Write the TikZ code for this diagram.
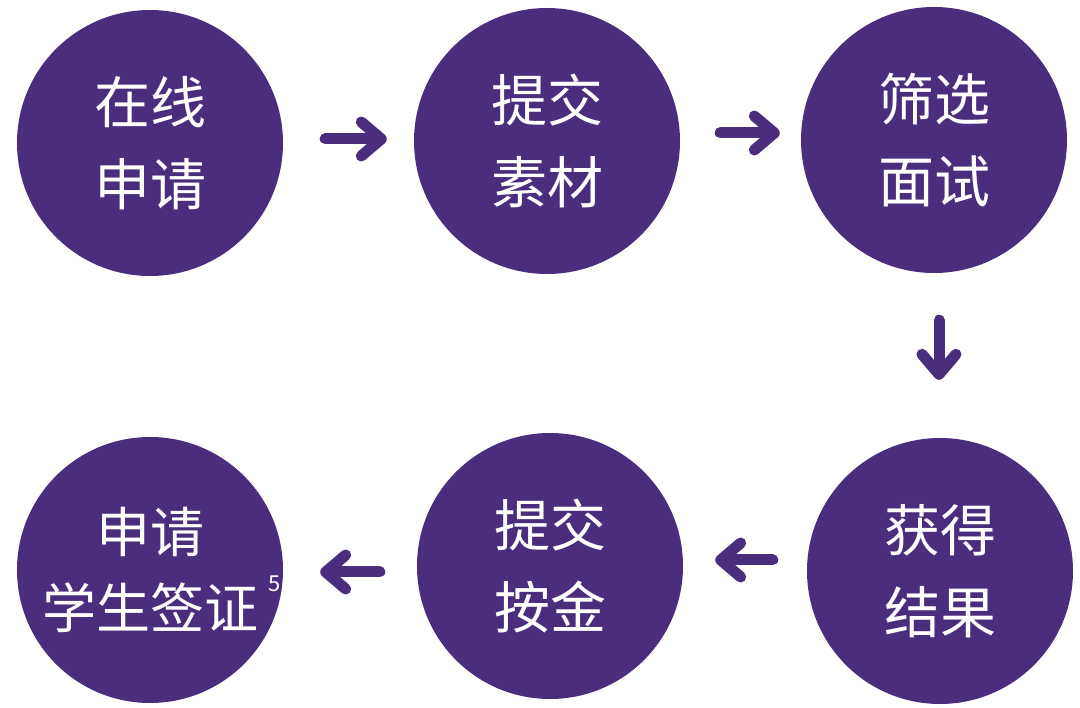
\documentclass[tikz,border=0pt]{standalone}
\usepackage{fontspec}
\newfontfamily\cjk{Noto Sans CJK SC}
\usetikzlibrary{arrows.meta}
\definecolor{uvpurple}{HTML}{4B2D7E}
\tikzset{
  stepcirc/.style={circle, fill=uvpurple, minimum size=266pt, inner sep=0pt,
    text=white, align=center, font=\cjk\fontsize{56}{82}\selectfont},
  flowarrow/.style={draw=uvpurple, line width=11pt, line cap=round,
    -{Straight Barb[length=20pt, width=34pt, round]}}
}
\begin{document}
\begin{tikzpicture}[x=1pt, y=-1pt]
\useasboundingbox (0,0) rectangle (1080,708);
\node[stepcirc] (c1) at (150,143) {在线\\申请};
\node[stepcirc] (c2) at (547,141) {提交\\素材};
\node[stepcirc] (c3) at (934,140) {筛选\\面试};
\node[stepcirc] (c6) at (940,571) {获得\\结果};
\node[stepcirc] (c5) at (550,566) {提交\\按金};
\node[stepcirc, font=\cjk\fontsize{54}{76}\selectfont] (c4) at (150,570) {申请\\学生签证};
\node[text=white, font=\cjk\fontsize{22}{26}\selectfont, inner sep=0pt] (sup) at (275,584) {5};
\draw[flowarrow, shorten <=42pt, shorten >=27pt] ([yshift=4pt]c1.east) -- ([yshift=2pt]c2.west);
\draw[flowarrow, shorten <=40pt, shorten >=21pt] ([yshift=8pt]c2.east) -- ([yshift=7pt]c3.west);
\draw[flowarrow, shorten <=47pt, shorten >=58pt] ([xshift=5pt]c3.south) -- ([xshift=-1pt]c6.north);
\draw[flowarrow, shorten <=34pt, shorten >=32pt] ([yshift=11pt]c6.west) -- ([yshift=6pt]c5.east);
\draw[flowarrow, shorten <=37pt, shorten >=37pt] ([yshift=-6pt]c5.west) -- ([yshift=-2pt]c4.east);
\end{tikzpicture}
\end{document}
